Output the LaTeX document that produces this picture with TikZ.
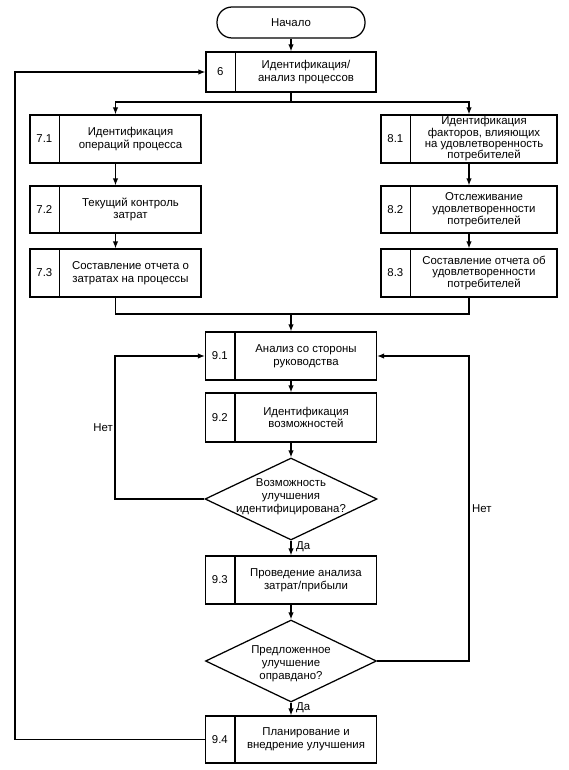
\documentclass[tikz,border=0pt]{standalone}
\usepackage{fontspec}
\setmainfont{Liberation Sans}
\usetikzlibrary{shapes.geometric,arrows.meta,calc}
\newcommand\mkbox[7][]{%
  \node[pbox,minimum width=#4,minimum height=#5] (#2) at #3 {};
  \draw[ln] ([xshift=30pt]#2.north west) -- ([xshift=30pt]#2.south west);
  \node[numc] (#2n) at ([xshift=15pt]#2.west) {#6};
  \node[txt,#1] (#2t) at ($(#2.east)!0.5!([xshift=30pt]#2.west)$) {#7};
}
\begin{document}
\begin{tikzpicture}[x=1pt,y=-1pt,
  every node/.style={font=\fontsize{11.4}{12.8}\selectfont},
  ln/.style={line width=1.25pt},
  arr/.style={ln,-{Latex[length=7pt,width=5.5pt]}},
  pbox/.style={draw,line width=1.25pt,inner sep=0pt},
  numc/.style={inner sep=0pt},
  txt/.style={align=center,inner sep=0pt},
  dia/.style={draw,diamond,line width=1.25pt,minimum width=172pt,minimum height=82pt,inner sep=0pt},
  lbl/.style={inner sep=0pt},
]
\useasboundingbox (0,0) rectangle (569,770);

\node[draw,ln,rounded corners=15pt,minimum width=148pt,minimum height=31pt] (start) at (291,22.5) {Начало};

\mkbox{b6}{(291,72)}{170pt}{40pt}{6}{Идентификация/\\анализ процессов}

\mkbox{b71}{(115.5,139)}{171pt}{48pt}{7.1}{Идентификация\\операций процесса}
\mkbox{b72}{(115.5,209.5)}{171pt}{47pt}{7.2}{Текущий контроль\\затрат}
\mkbox{b73}{(115.5,273)}{171pt}{48pt}{7.3}{Составление отчета о\\затратах на процессы}

\mkbox[font=\fontsize{11.4}{10.6}\selectfont]{b81}{(469,139)}{176pt}{48pt}{8.1}{Идентификация\\факторов, влияющих\\на удовлетворенность\\потребителей}
\mkbox[font=\fontsize{11.4}{12}\selectfont]{b82}{(469,209.5)}{176pt}{47pt}{8.2}{Отслеживание\\удовлетворенности\\потребителей}
\mkbox[font=\fontsize{11.4}{11.5}\selectfont]{b83}{(469,273)}{176pt}{48pt}{8.3}{Составление отчета об\\удовлетворенности\\потребителей}

\mkbox{b91}{(291,356)}{171pt}{48pt}{9.1}{Анализ со стороны\\руководства}
\mkbox{b92}{(291,417.5)}{171pt}{49pt}{9.2}{Идентификация\\возможностей}
\node[dia] (d1) at (291,499) {};
\node[txt,font=\fontsize{11.4}{13}\selectfont] (d1t) at (291,497) {Возможность\\улучшения\\идентифицирована?};
\mkbox{b93}{(291,580)}{171pt}{48pt}{9.3}{Проведение анализа\\затрат/прибыли}
\node[dia,minimum width=171pt] (d2) at (291,661) {};
\node[txt,font=\fontsize{11.4}{13}\selectfont] (d2t) at (291,664) {Предложенное\\улучшение\\оправдано?};
\mkbox{b94}{(291,739.5)}{171pt}{47pt}{9.4}{Планирование и\\внедрение улучшения}

% connectors
\draw[arr] (start) -- (b6);
\coordinate (sp) at (291,102);
\draw[ln] (b6.south) -- (sp);
\draw[arr] (sp) -| (b71.north);
\draw[arr] (sp) -| (b81.north);
\draw[arr] (b71) -- (b72);
\draw[arr] (b72) -- (b73);
\draw[arr] (b81) -- (b82);
\draw[arr] (b82) -- (b83);
\coordinate (mg) at (291,314);
\draw[ln] (b73.south) |- (mg);
\draw[ln] (b83.south) |- (mg);
\draw[arr] (mg) -- (b91);
\draw[arr] (b91) -- (b92);
\draw[arr] (b92) -- (d1);
\draw[arr] (d1) -- (b93);
\draw[arr] (b93) -- (d2);
\draw[arr] (d2) -- (b94);

\coordinate (l1) at (115,499);
\draw[arr] (d1.west) -- (l1) |- (b91.west);
\coordinate (r2) at (469,661);
\draw[arr] (d2.east) -- (r2) |- (b91.east);
\coordinate (bl) at (15,739.5);
\draw[arr] (b94.west) -- (bl) |- (b6.west);

\node[lbl,anchor=east] (no1) at (113,428) {Нет};
\node[lbl,anchor=west] (no2) at (472,509) {Нет};
\node[lbl,anchor=west] (da1) at (296,547) {Да};
\node[lbl,anchor=west] (da2) at (296,707.5) {Да};
\end{tikzpicture}
\end{document}
